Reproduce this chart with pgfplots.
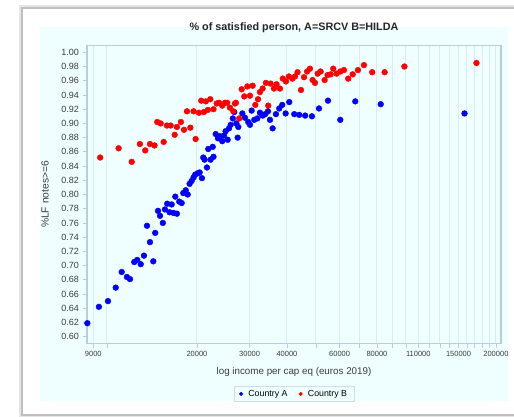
\documentclass[border=0pt]{standalone}
\usepackage{fontspec}
\setmainfont{Liberation Sans}
\usepackage{pgfplots}
\pgfplotsset{compat=1.18}
\definecolor{bgcyan}{HTML}{EFFEFF}
\definecolor{gridblue}{HTML}{D8ECF7}
\definecolor{frameblue}{HTML}{B8CEE0}
\definecolor{ptblue}{HTML}{0000FF}
\definecolor{ptred}{HTML}{FF0000}
\definecolor{ticktext}{HTML}{3C3C3C}

% Country A (SRCV): income, share satisfied
\pgfplotstableread{
x y
8600 0.619
9400 0.642
10080 0.650
10700 0.669
11200 0.691
11660 0.684
11940 0.681
12340 0.705
12630 0.708
12970 0.702
13300 0.714
13610 0.756
13930 0.733
14290 0.706
14500 0.746
14820 0.777
15050 0.770
15380 0.760
15630 0.779
15910 0.787
16200 0.775
16460 0.786
16710 0.774
16930 0.797
17140 0.773
17450 0.790
17780 0.788
18000 0.802
18350 0.806
18620 0.800
18900 0.815
19200 0.819
19490 0.824
19740 0.828
20150 0.830
20420 0.831
20780 0.823
21000 0.852
21210 0.849
21600 0.838
21820 0.864
22220 0.849
22580 0.867
22720 0.853
23110 0.885
23520 0.879
23830 0.882
24300 0.875
24630 0.883
24940 0.889
25340 0.877
25600 0.893
25930 0.898
26370 0.907
26660 0.916
27100 0.900
27360 0.880
27500 0.895
28370 0.914
28940 0.908
29680 0.902
30090 0.898
30480 0.918
31100 0.905
31840 0.907
32490 0.915
33170 0.911
33840 0.913
34560 0.917
35100 0.905
35820 0.893
36750 0.913
37700 0.921
38580 0.926
39600 0.914
40720 0.930
42320 0.913
43960 0.912
46020 0.911
48480 0.910
51200 0.921
54870 0.932
60320 0.905
67700 0.931
82360 0.927
157000 0.914
}\tblA

% Country B (HILDA)
\pgfplotstableread{
x y
9490 0.852
10940 0.865
12100 0.846
12890 0.871
13430 0.862
13930 0.871
14430 0.869
14730 0.902
15120 0.900
15480 0.874
15870 0.897
16330 0.897
16850 0.884
17140 0.895
17680 0.902
18100 0.891
18520 0.917
19010 0.894
19490 0.917
19800 0.878
20310 0.915
20670 0.932
21100 0.916
21410 0.931
21760 0.919
22160 0.934
22720 0.920
23280 0.928
23700 0.929
24300 0.925
24820 0.929
25250 0.929
25780 0.922
26460 0.917
26800 0.928
27000 0.929
27690 0.907
28220 0.948
28790 0.938
29490 0.952
30090 0.939
30710 0.953
31350 0.926
32000 0.934
32490 0.944
33170 0.949
34020 0.957
34640 0.925
35270 0.956
36200 0.949
36910 0.955
37900 0.949
38750 0.963
39700 0.959
40600 0.966
41700 0.963
42560 0.966
43400 0.972
44560 0.947
45630 0.965
46720 0.973
47750 0.977
48740 0.961
49640 0.957
50660 0.970
51840 0.973
53460 0.961
54710 0.968
55990 0.969
57140 0.977
58620 0.970
60320 0.973
62020 0.975
64130 0.963
66370 0.969
69110 0.975
72380 0.982
77130 0.972
84880 0.972
98830 0.980
172200 0.985
}\tblB

\begin{document}
\begin{tikzpicture}[x=1pt,y=1pt]
\path[use as bounding box] (0,0) rectangle (514,417);
\fill[white] (0,0) rectangle (514,417);
% panel frame with soft shadow
\draw[black!10, line width=4pt] (21,1) rectangle (518,410);
\draw[black!25, line width=1.2pt] (22,2) rectangle (516,409);
\fill[white] (22.6,2.6) rectangle (514,408.4);
\fill[bgcyan] (40,16) rectangle (508,390);

\begin{axis}[
  at={(87pt,73.7pt)}, anchor=south west,
  scale only axis, width=414pt, height=297.6pt,
  xmode=log,
  xmin=8577, xmax=208000,
  ymin=0.5907, ymax=1.0093,
  xtick={9000,10000,20000,30000,40000,50000,60000,70000,80000,90000,100000,110000,120000,130000,140000,150000,160000,170000,180000,190000,200000},
  xticklabels={9000,,20000,30000,40000,,60000,,80000,,,110000,,,,150000,,,,,200000},
  ytick={0.60,0.62,0.64,0.66,0.68,0.70,0.72,0.74,0.76,0.78,0.80,0.82,0.84,0.86,0.88,0.90,0.92,0.94,0.96,0.98,1.00},
  yticklabel style={/pgf/number format/fixed, /pgf/number format/fixed zerofill,
    /pgf/number format/precision=2},
  /pgf/number format/assume math mode=true,
  minor tick num=0,
  tick pos=left,
  tick align=outside,
  major tick length=4.5pt,
  tick style={frameblue, line width=0.8pt},
  xmajorgrids,
  grid style={gridblue, line width=1pt},
  axis line style={frameblue, line width=1.2pt},
  axis background/.style={fill=bgcyan},
  x tick label style={font=\fontsize{7.5}{8}\selectfont, text=ticktext},
  y tick label style={font=\fontsize{9}{10}\selectfont, text=ticktext},
  title={\% of satisfied person, A=SRCV B=HILDA},
  title style={at={(0.5,1)}, anchor=center, yshift=12pt,
    font=\fontsize{10.8}{12}\selectfont\bfseries, text=black!85},
  xlabel={log income per cap eq (euros 2019)},
  xlabel style={at={(axis description cs:0.5,-0.0954)}, anchor=center,
    font=\fontsize{9.8}{11}\selectfont, text=ticktext},
  ylabel={\%LF notes>=6},
  ylabel style={at={(axis description cs:-0.1014,0.5)}, anchor=center,
    font=\fontsize{10.3}{11}\selectfont, text=ticktext},
  legend columns=2,
  legend style={at={(axis description cs:0.5,-0.170)}, anchor=center,
    draw=frameblue!70, fill=bgcyan, font=\fontsize{8.8}{10}\selectfont,
    inner xsep=5pt, inner ysep=1.5pt,
    /tikz/every even column/.append style={column sep=9pt}},
  legend image code/.code={\path (0pt,0pt) (7pt,0pt);
    \draw[#1] plot coordinates {(2pt,0pt)};},
]
\addplot[only marks, mark=*, mark size=2.9pt, color=ptblue,
  legend image post style={mark size=1.8pt}] table[x=x, y=y] {\tblA};
\addlegendentry{Country A}
\addplot[only marks, mark=*, mark size=2.9pt, color=ptred,
  legend image post style={mark size=1.8pt}] table[x=x, y=y] {\tblB};
\addlegendentry{Country B}
\end{axis}
\end{tikzpicture}
\end{document}
